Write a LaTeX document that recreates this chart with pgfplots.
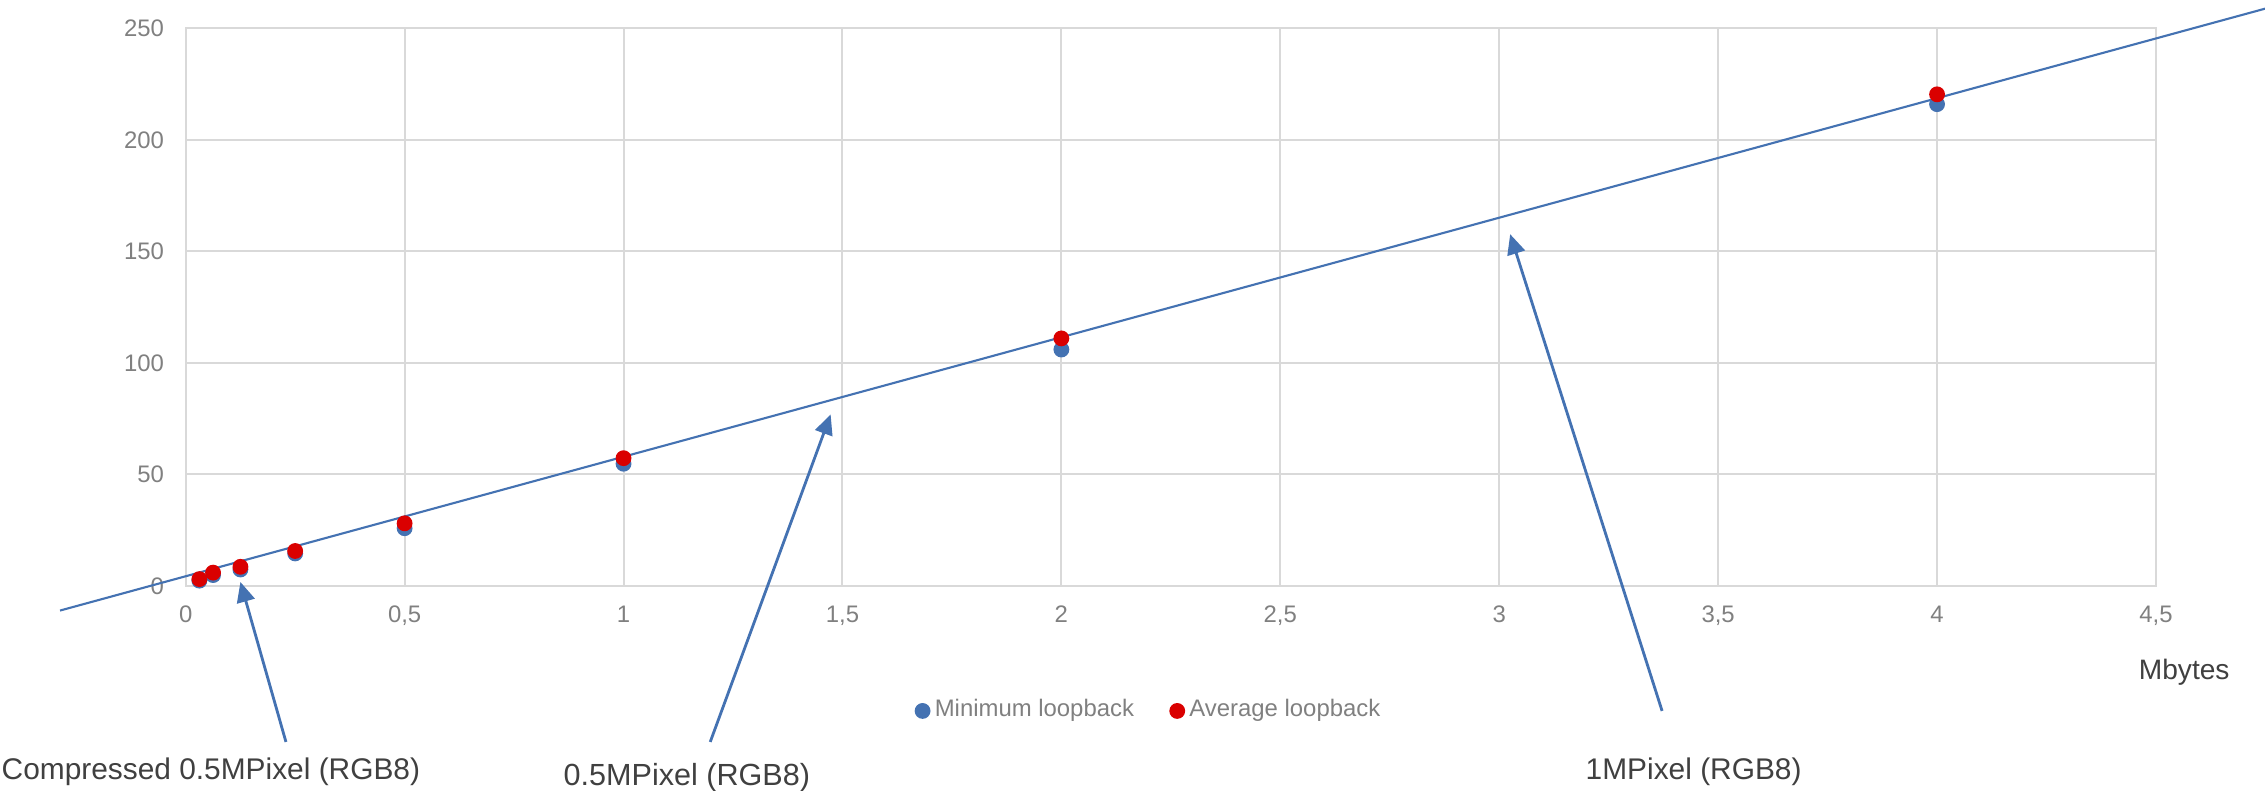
\documentclass[border=0pt]{standalone}
\usepackage{fontspec}
\setmainfont{Liberation Sans}
\usepackage{pgfplots}
\pgfplotsset{compat=1.18}
\usetikzlibrary{arrows.meta}
\definecolor{serblue}{RGB}{68,114,178}
\definecolor{serred}{RGB}{218,0,0}
\definecolor{gridgray}{RGB}{217,217,217}
\definecolor{ticktext}{RGB}{128,128,128}
\definecolor{darktext}{RGB}{64,64,64}
\begin{document}
\begin{tikzpicture}
\useasboundingbox (-18.57mm,-20.4mm) rectangle (207.93mm,58.6mm);
\begin{axis}[
  at={(0,0)}, anchor=south west,
  scale only axis, width=197.03mm, height=55.77mm,
  xmin=0, xmax=4.5, ymin=0, ymax=250,
  xtick={0,0.5,1,1.5,2,2.5,3,3.5,4,4.5},
  ytick={0,50,100,150,200,250},
  clip=false,
  axis line style={gridgray, line width=0.57pt},
  grid=major, major grid style={gridgray, line width=0.57pt},
  major tick length=0pt,
  tick label style={font=\fontsize{6.8pt}{8pt}\selectfont, text=ticktext, inner sep=0pt},
  xticklabel style={anchor=base, yshift=-3.6mm},
  yticklabel style={anchor=east, xshift=-2.1mm},
  /pgf/number format/use comma,
  /pgf/number format/1000 sep={},
  /pgf/number format/assume math mode=true,
  legend columns=2,
  legend image code/.code={\draw[mark repeat=2,mark phase=2,#1] plot coordinates {(0mm,0mm)(0.7mm,0mm)(1.4mm,0mm)};},
  legend style={at={(0.37,-0.224)}, anchor=west, draw=none, fill=none, inner sep=0pt,
    font=\fontsize{6.8pt}{8pt}\selectfont, text=ticktext,
    nodes={inner sep=0.5mm},
    /tikz/every even column/.append style={column sep=3.1mm}},
]
\addplot[only marks, mark=*, mark size=0.72mm, serblue, mark options={fill=serblue, draw=serblue}]
  coordinates {(0.03125,2.4) (0.0625,4.9) (0.125,7.4) (0.25,14.6) (0.5,25.9) (1,54.8) (2,106) (4,216)};
\addlegendentry{Minimum loopback}
\addplot[only marks, mark=*, mark size=0.72mm, serred, mark options={fill=serred, draw=serred}]
  coordinates {(0.03125,3.1) (0.0625,6.0) (0.125,8.6) (0.25,15.7) (0.5,28.1) (1,57.3) (2,111) (4,220.4)};
\addlegendentry{Average loopback}
\addplot[forget plot, serblue, line width=0.6pt, no markers]
  coordinates {(-0.287,-11.0) (4.749,258.8)};
\draw[serblue, line width=0.8pt, -{Triangle[length=2.0mm, width=1.8mm]}] (axis cs:0.229,-69.9) -- (axis cs:0.125,1.8);
\draw[serblue, line width=0.8pt, -{Triangle[length=2.0mm, width=1.8mm]}] (axis cs:1.198,-69.9) -- (axis cs:1.473,76.9);
\draw[serblue, line width=0.8pt, -{Triangle[length=2.0mm, width=1.8mm]}] (axis cs:3.372,-56.0) -- (axis cs:3.025,157.7);
\node[anchor=base west, inner sep=0pt, text=darktext, font=\fontsize{8.5pt}{10pt}\selectfont] at (axis cs:-0.4218,-86.9) {Compressed 0.5MPixel (RGB8)};
\node[anchor=base west, inner sep=0pt, text=darktext, font=\fontsize{8.7pt}{10pt}\selectfont] at (axis cs:0.8618,-89.6) {0.5MPixel (RGB8)};
\node[anchor=base west, inner sep=0pt, text=darktext, font=\fontsize{8.5pt}{10pt}\selectfont] at (axis cs:3.196,-86.9) {1MPixel (RGB8)};
\node[anchor=base west, inner sep=0pt, text=darktext, font=\fontsize{8pt}{9.6pt}\selectfont] at (axis cs:4.4594,-41.7) {Mbytes};
\end{axis}
\end{tikzpicture}
\end{document}
